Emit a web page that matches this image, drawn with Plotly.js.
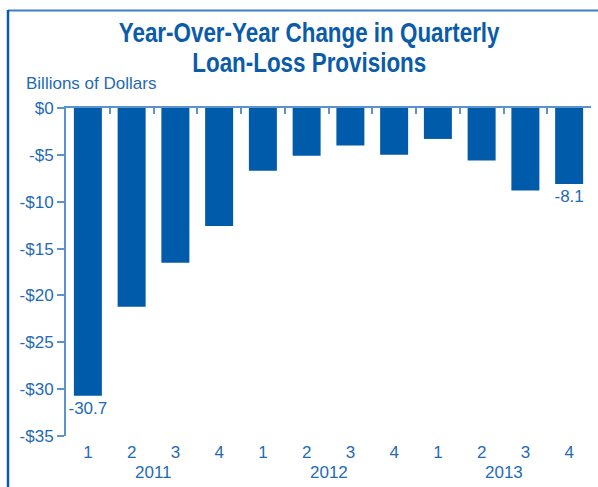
<!DOCTYPE html>
<html><head><meta charset="utf-8">
<script src="https://cdn.plot.ly/plotly-3.0.1.min.js"></script>
<style>html,body{margin:0;padding:0;background:#fff;}#chart{width:598px;height:487px;}</style>
</head><body><div id="chart"></div>
<script>
// Data
const quarters = ["1","2","3","4","1","2","3","4","1","2","3","4"];
const years = ["2011","2012","2013"];
const values = [-30.7,-21.2,-16.5,-12.6,-6.7,-5.1,-4.0,-5.0,-3.3,-5.6,-8.8,-8.1];
const labelIndex = [0, 11];
const yTickVals = [0,-5,-10,-15,-20,-25,-30,-35];
const yTickText = ["$0","-$5","-$10","-$15","-$20","-$25","-$30","-$35"];
const titleLines = ["Year-Over-Year Change in Quarterly", "Loan-Loss Provisions"];
const yAxisLabel = "Billions of Dollars";

const W = 598, H = 487;
const M = {l:66, r:7, t:108, b:51};
const pw = W - M.l - M.r, ph = H - M.t - M.b;
const px2x = p => (p - M.l) / pw;
const px2y = p => (H - M.b - p) / ph;

const FONT = '"Liberation Sans", Arial, sans-serif';
const TXT = '#1f6bb5';
const BAR = '#005baa';
const AX = '#5b93cc';
const TITLE = '#0b5ca8';

const idx = quarters.map((q,i)=>i);
const text = values.map((v,i)=> labelIndex.includes(i) ? v.toFixed(1) : '');

const trace = {
  type:'bar', x: idx, y: values, width: 0.64,
  marker:{color:BAR},
  text: text, textposition:'outside', constraintext:'none', cliponaxis:false,
  textfont:{family:FONT, size:17, color:TXT},
  hoverinfo:'skip'
};
const dummy = {type:'scatter', x:[0], y:[0], xaxis:'x2', mode:'none', hoverinfo:'skip', showlegend:false};

const boundaries = [];
for (let i=0;i<=quarters.length;i++) boundaries.push(i-0.5);

const annotations = years.map((y,k)=>({
  text:y, xref:'x', yref:'paper', x: 4*k+1.5, y: px2y(472), yanchor:'middle', xanchor:'center',
  showarrow:false, font:{family:FONT, size:17, color:TXT}
}));
annotations.push({text:yAxisLabel, xref:'paper', yref:'paper', x:px2x(24), y:px2y(84),
  xanchor:'left', yanchor:'middle', showarrow:false, font:{family:FONT, size:17, color:TXT}});
const titleY = [33, 62];
titleLines.forEach((t,k)=>annotations.push({text:'<b>'+t+'</b>', xref:'paper', yref:'paper', x:px2x(309), y:px2y(titleY[k]),
  xanchor:'center', yanchor:'middle', showarrow:false, font:{family:FONT, size:28, color:TITLE}, name:'title'}));

const layout = {
  width:W, height:H, margin:M, showlegend:false,
  paper_bgcolor:'#fff', plot_bgcolor:'#fff',
  xaxis:{range:[-0.5,11.5], tickvals:idx, ticktext:quarters, ticks:'', showline:false, showgrid:false, zeroline:false,
    ticklabelstandoff:4, tickfont:{family:FONT, size:17, color:TXT}, fixedrange:true},
  xaxis2:{range:[-0.5,11.5], overlaying:'x', side:'top', anchor:'y', tickvals:boundaries, showticklabels:false,
    ticks:'inside', ticklen:6, tickwidth:2, tickcolor:AX, showline:true, linecolor:AX, linewidth:2, showgrid:false, zeroline:false},
  yaxis:{range:[-35,0], tickvals:yTickVals, ticktext:yTickText, ticks:'outside', ticklen:7, tickwidth:2, tickcolor:AX,
    showline:true, linecolor:AX, linewidth:2, showgrid:false, zeroline:false,
    tickfont:{family:FONT, size:17, color:TXT}, fixedrange:true},
  annotations: annotations,
  shapes:[
    {type:'line', xref:'paper', yref:'paper', x0:px2x(8), x1:px2x(598), y0:px2y(10.5), y1:px2y(10.5), line:{color:'#3f80c4', width:2}},
    {type:'line', xref:'paper', yref:'paper', x0:px2x(8), x1:px2x(8), y0:px2y(10), y1:px2y(487), line:{color:'#0b5ca8', width:2.5}}
  ]
};
Plotly.newPlot('chart',[trace, dummy], layout, {staticPlot:true, displayModeBar:false}).then(gd=>{
  // condense title glyphs horizontally (reference uses a condensed face)
  const texts = gd.querySelectorAll('.annotation-text');
  texts.forEach(el=>{
    if (el.textContent === titleLines[0] || el.textContent === titleLines[1]) {
      const bb = el.getBBox();
      const cx = bb.x + bb.width/2;
      el.setAttribute('transform', `translate(${cx},0) scale(0.8,1) translate(${-cx},0)`);
    }
  });
});
</script></body></html>
